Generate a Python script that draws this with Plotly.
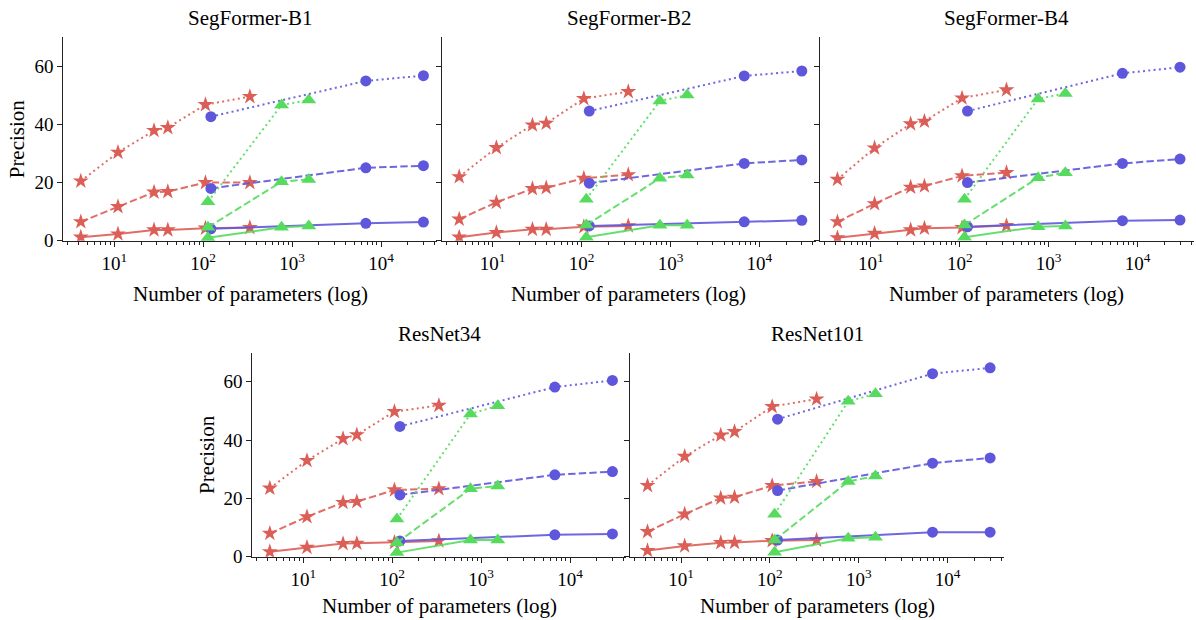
import plotly.graph_objects as go

# ---------------- data ----------------
MODELS = ["SegFormer-B1", "SegFormer-B2", "SegFormer-B4", "ResNet34", "ResNet101"]

X_STAR = [4.2, 11, 28, 40, 106, 335]
X_CIRCLE = [122, 6750, 30000]
X_TRIANGLE = [113, 760, 1540]

# SegFormer-B1
B1_STAR_SOLID = [1.2, 2.3, 3.7, 3.7, 4.3, 4.5]
B1_STAR_DASH = [6.5, 11.7, 16.7, 16.9, 20.0, 20.0]
B1_STAR_DOT = [20.5, 30.4, 37.9, 38.9, 46.8, 49.6]
B1_CIRCLE_SOLID = [4.1, 6.0, 6.4]
B1_CIRCLE_DASH = [18.0, 25.1, 25.8]
B1_CIRCLE_DOT = [42.7, 55.0, 56.8]
B1_TRI_SOLID = [1.0, 4.6, 5.1]
B1_TRI_DASH = [4.6, 20.3, 21.1]
B1_TRI_DOT = [13.4, 46.7, 48.4]

# SegFormer-B2
B2_STAR_SOLID = [1.2, 2.8, 3.9, 3.9, 4.8, 5.1]
B2_STAR_DASH = [7.4, 13.2, 17.9, 18.2, 21.5, 22.7]
B2_STAR_DOT = [22.0, 32.0, 39.8, 40.4, 48.9, 51.3]
B2_CIRCLE_SOLID = [5.1, 6.5, 7.0]
B2_CIRCLE_DASH = [19.8, 26.6, 27.8]
B2_CIRCLE_DOT = [44.6, 56.7, 58.4]
B2_TRI_SOLID = [1.2, 5.3, 5.3]
B2_TRI_DASH = [5.4, 21.5, 22.6]
B2_TRI_DOT = [14.3, 48.1, 50.1]

# SegFormer-B4
B4_STAR_SOLID = [1.0, 2.5, 3.7, 4.3, 4.5, 5.2]
B4_STAR_DASH = [6.5, 12.7, 18.4, 18.8, 22.3, 23.4]
B4_STAR_DOT = [21.1, 31.9, 40.2, 41.1, 49.1, 51.9]
B4_CIRCLE_SOLID = [4.8, 6.9, 7.1]
B4_CIRCLE_DASH = [20.0, 26.6, 28.1]
B4_CIRCLE_DOT = [44.6, 57.6, 59.7]
B4_TRI_SOLID = [1.2, 4.8, 5.1]
B4_TRI_DASH = [5.4, 21.7, 23.4]
B4_TRI_DOT = [14.3, 48.8, 50.7]

# ResNet34
R34_STAR_SOLID = [1.7, 3.2, 4.5, 4.6, 4.9, 5.4]
R34_STAR_DASH = [8.0, 13.7, 18.6, 18.9, 22.9, 23.3]
R34_STAR_DOT = [23.5, 33.0, 40.5, 41.8, 49.8, 51.9]
R34_CIRCLE_SOLID = [5.4, 7.5, 7.8]
R34_CIRCLE_DASH = [21.2, 28.1, 29.2]
R34_CIRCLE_DOT = [44.7, 58.2, 60.5]
R34_TRI_SOLID = [1.4, 5.7, 5.7]
R34_TRI_DASH = [4.8, 23.3, 24.3]
R34_TRI_DOT = [12.9, 49.0, 51.8]

# ResNet101
R101_STAR_SOLID = [2.1, 3.7, 4.8, 4.9, 5.5, 5.7]
R101_STAR_DASH = [8.6, 14.6, 20.1, 20.4, 24.4, 25.8]
R101_STAR_DOT = [24.4, 34.4, 41.7, 42.9, 51.5, 54.1]
R101_CIRCLE_SOLID = [5.7, 8.4, 8.4]
R101_CIRCLE_DASH = [22.7, 32.1, 33.9]
R101_CIRCLE_DOT = [47.2, 62.8, 64.8]
R101_TRI_SOLID = [1.5, 6.3, 6.7]
R101_TRI_DASH = [5.7, 25.8, 27.7]
R101_TRI_DOT = [14.6, 53.3, 55.9]

Y_TICKS = [0, 20, 40, 60]
X_TICKS = [10, 100, 1000, 10000]
X_TICK_TEXT = ["10<sup>1</sup>", "10<sup>2</sup>", "10<sup>3</sup>", "10<sup>4</sup>"]
X_TITLE = "Number of parameters (log)"
Y_TITLE = "Precision"

PANEL_SERIES = [
    [B1_STAR_SOLID, B1_STAR_DASH, B1_STAR_DOT, B1_CIRCLE_SOLID, B1_CIRCLE_DASH, B1_CIRCLE_DOT, B1_TRI_SOLID, B1_TRI_DASH, B1_TRI_DOT],
    [B2_STAR_SOLID, B2_STAR_DASH, B2_STAR_DOT, B2_CIRCLE_SOLID, B2_CIRCLE_DASH, B2_CIRCLE_DOT, B2_TRI_SOLID, B2_TRI_DASH, B2_TRI_DOT],
    [B4_STAR_SOLID, B4_STAR_DASH, B4_STAR_DOT, B4_CIRCLE_SOLID, B4_CIRCLE_DASH, B4_CIRCLE_DOT, B4_TRI_SOLID, B4_TRI_DASH, B4_TRI_DOT],
    [R34_STAR_SOLID, R34_STAR_DASH, R34_STAR_DOT, R34_CIRCLE_SOLID, R34_CIRCLE_DASH, R34_CIRCLE_DOT, R34_TRI_SOLID, R34_TRI_DASH, R34_TRI_DOT],
    [R101_STAR_SOLID, R101_STAR_DASH, R101_STAR_DOT, R101_CIRCLE_SOLID, R101_CIRCLE_DASH, R101_CIRCLE_DOT, R101_TRI_SOLID, R101_TRI_DASH, R101_TRI_DOT],
]

# ---------------- style ----------------
W, H = 1196, 620
FONT = "Liberation Serif, Times New Roman, serif"
RED, BLUE, GREEN = "#db5e57", "#5e57db", "#57db5e"
RED_L, BLUE_L, GREEN_L = "rgba(219,94,87,0.9)", "rgba(94,87,219,0.9)", "rgba(87,219,94,0.9)"
DASHES = ["solid", "7.4px,3.2px", "2px,3.3px"]
METHODS = [  # (x, marker color, line color, symbol, size)
    (X_STAR, RED, RED_L, "star", 12),
    (X_CIRCLE, BLUE, BLUE_L, "circle", 11),
    (X_TRIANGLE, GREEN, GREEN_L, "triangle-up", 13),
]

# panel pixel boxes: (left, right, top, bottom)
PW = 374
BOXES = [
    (63.3, 63.3 + PW, 37.3, 240.7),
    (441.7, 441.7 + PW, 37.3, 240.7),
    (819.9, 819.9 + PW, 37.3, 240.7),
    (252.3, 252.3 + PW, 352.7, 556.7),
    (630.0, 630.0 + PW, 352.7, 556.7),
]
XRANGE = [0.4263, 0.4263 + PW / 88.9]

minor_vals = [m * 10 ** k for k in range(0, 5) for m in range(2, 10)]

fig = go.Figure()
annotations = []
layout = {}
for i, (name, series) in enumerate(zip(MODELS, PANEL_SERIES)):
    n = i + 1
    xa = "x" if n == 1 else f"x{n}"
    ya = "y" if n == 1 else f"y{n}"
    for m, (xs, mc, lc, sym, size) in enumerate(METHODS):
        for s in range(3):
            fig.add_trace(go.Scatter(
                x=xs, y=series[m * 3 + s], xaxis=xa, yaxis=ya,
                mode="lines+markers", showlegend=False,
                line=dict(color=lc, width=2, dash=DASHES[s]),
                marker=dict(symbol=sym, size=size, color=mc, line=dict(width=0)),
            ))
    l, r, t, b = BOXES[i]
    layout[f"xaxis{'' if n == 1 else n}"] = dict(
        type="log", domain=[l / W, r / W], range=XRANGE, anchor=ya,
        showgrid=False, zeroline=False, showline=True, linecolor="#222", linewidth=1,
        ticks="outside", ticklen=5, tickwidth=1, tickcolor="#222",
        tickvals=X_TICKS, ticktext=X_TICK_TEXT, automargin=False,
        tickfont=dict(family=FONT, size=19, color="black"),
        minor=dict(tickvals=minor_vals, ticks="outside", ticklen=3, tickwidth=0.8, tickcolor="#222", showgrid=False),
    )
    layout[f"yaxis{'' if n == 1 else n}"] = dict(
        domain=[1 - b / H, 1 - t / H], range=[0, 70], anchor=xa,
        showgrid=False, zeroline=False, showline=True, linecolor="#222", linewidth=1,
        ticks="outside", ticklen=5, tickwidth=1, tickcolor="#222",
        tickvals=Y_TICKS, showticklabels=(n in (1, 4)), automargin=False,
        tickfont=dict(family=FONT, size=19, color="black"),
    )
    cx = (l + r) / 2
    title_off = 53 if n <= 3 else 49.5
    annotations.append(dict(text=name, x=cx / W, y=1 - (t - 19) / H, xref="paper", yref="paper",
                            xanchor="center", yanchor="middle", showarrow=False, borderpad=0,
                            font=dict(family=FONT, size=21, color="black")))
    annotations.append(dict(text=X_TITLE, x=cx / W, y=1 - (b + title_off) / H, xref="paper", yref="paper",
                            xanchor="center", yanchor="middle", showarrow=False, borderpad=0,
                            font=dict(family=FONT, size=21, color="black")))
    if n in (1, 4):
        annotations.append(dict(text=Y_TITLE, x=(l - 46) / W, y=1 - ((t + b) / 2 + 0) / H,
                                xref="paper", yref="paper", textangle=-90, borderpad=0,
                                xanchor="center", yanchor="middle", showarrow=False,
                                font=dict(family=FONT, size=21, color="black")))

fig.update_layout(
    width=W, height=H, autosize=False,
    margin=dict(l=0, r=0, t=0, b=0, pad=0, autoexpand=False),
    paper_bgcolor="white", plot_bgcolor="white",
    font=dict(family=FONT, color="black"),
    annotations=annotations,
    **layout,
)

post = "document.body.style.margin='0';document.body.style.overflow='hidden';"
fig.write_html("out.html", config={"displayModeBar": False}, post_script=post)
